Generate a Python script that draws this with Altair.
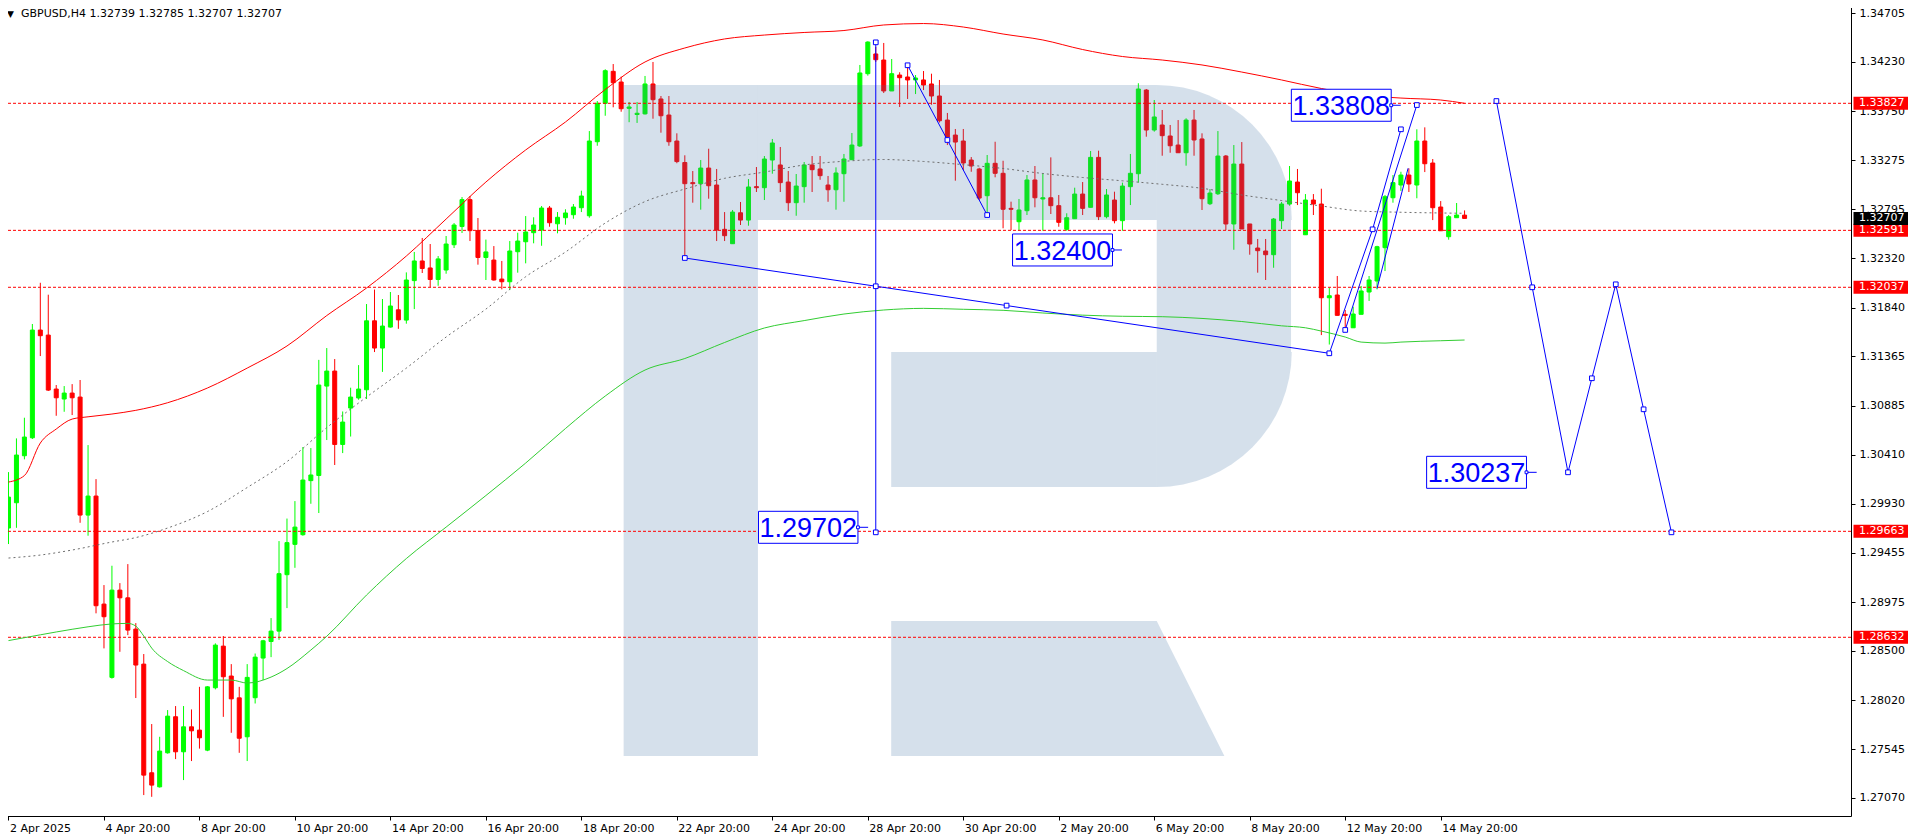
import json
import pandas as pd
import altair as alt

# ---------------- data ----------------
HEADER = "GBPUSD,H4  1.32739 1.32785 1.32707 1.32707"

OPEN = [1.29695, 1.29941, 1.30398, 1.30573, 1.31621, 1.31572, 1.31047, 1.30950, 1.31008, 1.30969,
        1.29821, 1.30006, 1.28955, 1.28242, 1.29091, 1.29016, 1.28712, 1.28371, 1.27314, 1.27177,
        1.27508, 1.27859, 1.27518, 1.27761, 1.27729, 1.27534, 1.28141, 1.28546, 1.28255, 1.28043,
        1.27664, 1.28044, 1.28430, 1.28591, 1.28692, 1.29241, 1.29536, 1.29630, 1.30156, 1.30206,
        1.31076, 1.31222, 1.30508, 1.30862, 1.30960, 1.31040, 1.31711, 1.31446, 1.31650, 1.31818,
        1.31718, 1.32102, 1.32293, 1.32225, 1.32113, 1.32205, 1.32451, 1.32628, 1.32890, 1.32588,
        1.32327, 1.32302, 1.32117, 1.32091, 1.32383, 1.32480, 1.32568, 1.32594, 1.32808, 1.32655,
        1.32714, 1.32743, 1.32811, 1.32733, 1.33453, 1.33827, 1.34138, 1.34034, 1.33778, 1.33718,
        1.33724, 1.34015, 1.33869, 1.33713, 1.33460, 1.33251, 1.33055, 1.33045, 1.33197, 1.33032,
        1.32601, 1.32461, 1.32762, 1.32691, 1.33016, 1.33006, 1.33275, 1.33227, 1.33061, 1.32860,
        1.33016, 1.33227, 1.33188, 1.33032, 1.32986, 1.33142, 1.33278, 1.33412, 1.34115, 1.34307,
        1.34248, 1.33947, 1.34102, 1.34083, 1.34054, 1.34054, 1.34015, 1.33898, 1.33664, 1.33518,
        1.33460, 1.33275, 1.33188, 1.32928, 1.33243, 1.33146, 1.32805, 1.32675, 1.32782, 1.33081,
        1.32896, 1.32908, 1.32831, 1.32601, 1.32704, 1.32944, 1.32815, 1.33301, 1.32724, 1.32886,
        1.32685, 1.33016, 1.33142, 1.33956, 1.33567, 1.33616, 1.33509, 1.33421, 1.33346, 1.33664,
        1.33480, 1.32850, 1.32947, 1.33314, 1.32653, 1.33236, 1.32653, 1.32419, 1.32390, 1.32354,
        1.32685, 1.32847, 1.33061, 1.32548, 1.32886, 1.32847, 1.31935, 1.31962, 1.31774, 1.31643,
        1.31774, 1.31991, 1.32098, 1.32422, 1.32908, 1.33032, 1.33129, 1.33032, 1.33460, 1.33246,
        1.32818, 1.32529, 1.32714, 1.32739]

HIGH = [1.30239, 1.30567, 1.30768, 1.31680, 1.32081, 1.31965, 1.31086, 1.31076, 1.31095, 1.31135,
        1.30502, 1.30171, 1.29140, 1.29328, 1.29159, 1.29344, 1.28770, 1.28469, 1.27788, 1.27664,
        1.27924, 1.27963, 1.27963, 1.27930, 1.28150, 1.28157, 1.28573, 1.28644, 1.28371, 1.28150,
        1.28371, 1.28474, 1.28607, 1.28819, 1.29568, 1.29787, 1.29957, 1.30483, 1.30473, 1.31331,
        1.31446, 1.31339, 1.30829, 1.31060, 1.31280, 1.31874, 1.32015, 1.31923, 1.31991, 1.31962,
        1.32182, 1.32381, 1.32517, 1.32458, 1.32341, 1.32536, 1.32662, 1.32915, 1.32925, 1.32711,
        1.32501, 1.32438, 1.32293, 1.32487, 1.32568, 1.32730, 1.32718, 1.32828, 1.32828, 1.32769,
        1.32796, 1.32847, 1.32977, 1.33557, 1.33849, 1.34158, 1.34209, 1.34086, 1.33840, 1.33840,
        1.34093, 1.34229, 1.33898, 1.33898, 1.33535, 1.33321, 1.33168, 1.33275, 1.33385, 1.33188,
        1.32769, 1.32789, 1.32867, 1.33090, 1.33207, 1.33314, 1.33480, 1.33402, 1.33168, 1.33139,
        1.33256, 1.33314, 1.33314, 1.33120, 1.33204, 1.33334, 1.33538, 1.34200, 1.34430, 1.34375,
        1.34414, 1.34258, 1.34129, 1.34193, 1.34102, 1.34141, 1.34115, 1.34054, 1.33733, 1.33577,
        1.33577, 1.33304, 1.33200, 1.33324, 1.33453, 1.33268, 1.32870, 1.32896, 1.33129, 1.33217,
        1.33146, 1.33301, 1.32935, 1.32757, 1.33006, 1.33061, 1.33363, 1.33366, 1.32993, 1.32967,
        1.33055, 1.33334, 1.34022, 1.33966, 1.33859, 1.33762, 1.33616, 1.33664, 1.33681, 1.33762,
        1.33535, 1.32993, 1.33557, 1.33324, 1.33421, 1.33450, 1.32653, 1.32507, 1.32507, 1.32711,
        1.32867, 1.33217, 1.33188, 1.32944, 1.32944, 1.32996, 1.32033, 1.32147, 1.31816, 1.31848,
        1.32050, 1.32147, 1.32441, 1.32935, 1.33129, 1.33161, 1.33194, 1.33574, 1.33593, 1.33285,
        1.32876, 1.32740, 1.32857, 1.32785]

LOW = [1.29539, 1.29697, 1.30363, 1.30561, 1.31368, 1.31028, 1.30787, 1.30826, 1.30794, 1.29746,
       1.29620, 1.28865, 1.28524, 1.28230, 1.28491, 1.28653, 1.28041, 1.27097, 1.27080, 1.27170,
       1.27500, 1.27447, 1.27243, 1.27428, 1.27549, 1.27524, 1.28125, 1.27858, 1.27703, 1.27508,
       1.27428, 1.27988, 1.28216, 1.28439, 1.28607, 1.28916, 1.29308, 1.29620, 1.29931, 1.29841,
       1.30551, 1.30308, 1.30424, 1.30585, 1.30943, 1.30950, 1.31407, 1.31214, 1.31645, 1.31633,
       1.31683, 1.31825, 1.32176, 1.32036, 1.32052, 1.32169, 1.32419, 1.32565, 1.32487, 1.32257,
       1.32108, 1.32102, 1.32017, 1.32010, 1.32179, 1.32270, 1.32465, 1.32441, 1.32626, 1.32562,
       1.32646, 1.32704, 1.32769, 1.32714, 1.33414, 1.33706, 1.33788, 1.33745, 1.33643, 1.33636,
       1.33718, 1.33677, 1.33541, 1.33414, 1.33244, 1.32319, 1.32860, 1.32792, 1.32899, 1.32487,
       1.32487, 1.32461, 1.32643, 1.32636, 1.32964, 1.32886, 1.33142, 1.32964, 1.32779, 1.32733,
       1.32860, 1.32964, 1.33083, 1.32869, 1.32792, 1.32869, 1.33275, 1.33402, 1.34096, 1.34229,
       1.33927, 1.33947, 1.33791, 1.33869, 1.33917, 1.33956, 1.33813, 1.33640, 1.33421, 1.33074,
       1.33178, 1.33161, 1.32886, 1.32740, 1.33107, 1.32611, 1.32594, 1.32587, 1.32740, 1.32815,
       1.32587, 1.32750, 1.32626, 1.32587, 1.32704, 1.32740, 1.32815, 1.32691, 1.32708, 1.32659,
       1.32587, 1.32837, 1.33055, 1.33502, 1.33551, 1.33317, 1.33346, 1.33346, 1.33220, 1.33317,
       1.32789, 1.32837, 1.32935, 1.32594, 1.32402, 1.32604, 1.32354, 1.32179, 1.32108, 1.32227,
       1.32604, 1.32831, 1.32837, 1.32548, 1.32740, 1.31572, 1.31480, 1.31764, 1.31641, 1.31643,
       1.31774, 1.31904, 1.32017, 1.32195, 1.32860, 1.32974, 1.32964, 1.32903, 1.33158, 1.32691,
       1.32587, 1.32500, 1.32714, 1.32707]

CLOSE = [1.29996, 1.30405, 1.30580, 1.31621, 1.31566, 1.31037, 1.30962, 1.31008, 1.30962, 1.29821,
         1.30006, 1.28939, 1.28832, 1.29091, 1.29016, 1.28702, 1.28362, 1.27291, 1.27194, 1.27525,
         1.27865, 1.27518, 1.27761, 1.27722, 1.27654, 1.28150, 1.28556, 1.28248, 1.28033, 1.27650,
         1.28242, 1.28439, 1.28598, 1.28692, 1.29251, 1.29553, 1.29704, 1.30162, 1.30211, 1.31086,
         1.31222, 1.30508, 1.30726, 1.30969, 1.31047, 1.31711, 1.31446, 1.31660, 1.31855, 1.31720,
         1.32108, 1.32293, 1.32220, 1.32113, 1.32313, 1.32458, 1.32643, 1.32890, 1.32588, 1.32327,
         1.32381, 1.32108, 1.32091, 1.32390, 1.32487, 1.32575, 1.32643, 1.32808, 1.32665, 1.32718,
         1.32760, 1.32818, 1.32925, 1.33460, 1.33827, 1.34144, 1.34027, 1.33774, 1.33791, 1.33730,
         1.34015, 1.33862, 1.33706, 1.33453, 1.33260, 1.33045, 1.33045, 1.33197, 1.33025, 1.32594,
         1.32539, 1.32769, 1.32691, 1.33013, 1.33006, 1.33285, 1.33441, 1.33055, 1.32860, 1.33022,
         1.33227, 1.33181, 1.33123, 1.32986, 1.33149, 1.33285, 1.33421, 1.34122, 1.34423, 1.34251,
         1.33947, 1.34115, 1.34076, 1.34054, 1.34073, 1.34005, 1.33898, 1.33657, 1.33499, 1.33450,
         1.33246, 1.33217, 1.32905, 1.33243, 1.33146, 1.32796, 1.32796, 1.32789, 1.33081, 1.32908,
         1.32908, 1.32831, 1.32669, 1.32714, 1.32944, 1.32805, 1.33301, 1.32724, 1.32935, 1.32685,
         1.33022, 1.33146, 1.33966, 1.33567, 1.33694, 1.33512, 1.33414, 1.33346, 1.33664, 1.33470,
         1.32899, 1.32954, 1.33314, 1.32653, 1.33236, 1.32604, 1.32458, 1.32393, 1.32354, 1.32701,
         1.32847, 1.33071, 1.32957, 1.32886, 1.32847, 1.31935, 1.31955, 1.31764, 1.31764, 1.31777,
         1.32001, 1.32108, 1.32432, 1.32918, 1.33055, 1.33129, 1.33042, 1.33460, 1.33239, 1.32811,
         1.32587, 1.32724, 1.32740, 1.32707]

# Bollinger-type band read at selected bars
UPPER_BARS = [0, 2, 4, 6, 8, 10, 13, 16, 20, 25, 30, 35, 40, 45, 50, 55, 60, 65, 70, 75, 80,
              85, 90, 95, 100, 105, 110, 115, 120, 125, 130, 135, 140, 145, 150, 155, 160, 165,
              170, 175, 180, 183]
UPPER = [1.30142, 1.30205, 1.30522, 1.30658, 1.30755, 1.30777, 1.30804, 1.30840, 1.30914, 1.31057,
         1.31251, 1.31466, 1.31762, 1.32030, 1.32341, 1.32701, 1.33061, 1.33373, 1.33645, 1.33961,
         1.34229, 1.34365, 1.34453, 1.34491, 1.34516, 1.34535, 1.34589, 1.34603, 1.34569, 1.34501,
         1.34443, 1.34350, 1.34282, 1.34248, 1.34200, 1.34131, 1.34054, 1.33971, 1.33908, 1.33878,
         1.33859, 1.33827]
MIDDLE_BARS = [0, 4, 8, 13, 16, 20, 25, 30, 35, 40, 45, 50, 55, 60, 65, 70, 75, 80, 85, 90, 95,
               100, 105, 110, 115, 120, 125, 130, 135, 140, 145, 150, 155, 160, 165, 170, 175, 180, 183]
MIDDLE = [1.29403, 1.29432, 1.29481, 1.29559, 1.29602, 1.29695, 1.29855, 1.30089, 1.30341, 1.30672,
          1.30969, 1.31251, 1.31553, 1.31825, 1.32140, 1.32380, 1.32662, 1.32871, 1.32993, 1.33097,
          1.33158, 1.33227, 1.33263, 1.33280, 1.33261, 1.33230, 1.33193, 1.33144, 1.33105, 1.33073,
          1.33039, 1.33000, 1.32935, 1.32881, 1.32828, 1.32779, 1.32767, 1.32760, 1.32757]
LOWER_BARS = [0, 4, 8, 10, 13, 15, 16, 17, 18, 20, 22, 25, 28, 30, 33, 35, 38, 40, 45, 50, 55, 60,
              65, 70, 75, 80, 85, 90, 95, 100, 105, 110, 115, 120, 125, 130, 135, 140, 145, 150,
              155, 160, 163, 165, 168, 170, 173, 175, 180, 183]
LOWER = [1.28600, 1.28656, 1.28710, 1.28734, 1.28762, 1.28767, 1.28741, 1.28644, 1.28527, 1.28396,
         1.28308, 1.28216, 1.28216, 1.28187, 1.28245, 1.28328, 1.28508, 1.28642, 1.29043, 1.29398,
         1.29704, 1.30011, 1.30327, 1.30663, 1.30979, 1.31232, 1.31344, 1.31500, 1.31641, 1.31713,
         1.31777, 1.31816, 1.31832, 1.31823, 1.31813, 1.31787, 1.31766, 1.31755, 1.31751, 1.31734,
         1.31704, 1.31662, 1.31643, 1.31611, 1.31553, 1.31504, 1.31494, 1.31504, 1.31517, 1.31524]

LEVELS = [1.33827, 1.32591, 1.32037, 1.29663, 1.28632]
LAST_PRICE = 1.32707

Y_TICKS = [1.34705, 1.34230, 1.33750, 1.33275, 1.32795, 1.32320, 1.31840, 1.31365, 1.30885,
           1.30410, 1.29930, 1.29455, 1.28975, 1.28500, 1.28020, 1.27545, 1.27070]
X_TICK_BARS = [0, 12, 24, 36, 48, 60, 72, 84, 96, 108, 120, 132, 144, 156, 168, 180]
X_TICK_LABELS = ["2 Apr 2025", "4 Apr 20:00", "8 Apr 20:00", "10 Apr 20:00", "14 Apr 20:00",
                 "16 Apr 20:00", "18 Apr 20:00", "22 Apr 20:00", "24 Apr 20:00", "28 Apr 20:00",
                 "30 Apr 20:00", "2 May 20:00", "6 May 20:00", "8 May 20:00", "12 May 20:00",
                 "14 May 20:00"]

# analysis drawings: (bar, price)
TREND = [(85, 1.32322), (166, 1.31395)]
VERTICAL = [(109, 1.34420), (109, 1.29653)]
DROP = [(113, 1.34197), (118, 1.33470), (123, 1.32740)]
WAVE_A = [(166, 1.31395), (171.44, 1.32601), (175, 1.33574)]
WAVE_B = [(168, 1.31622), (177, 1.33810)]
WAVE_C = [(172, 1.32027), (175.9, 1.33195)]
FORECAST = [(187, 1.33849), (191.5, 1.32037), (196, 1.30237), (199, 1.31152), (202, 1.32066),
            (205.5, 1.30850), (209, 1.29653)]
EXTRA_MARKERS = [(109, 1.32047), (125.44, 1.31859)]
# label text, price, box left bar, box right bar, tick end bar
LABELS = [("1.29702", 1.29702, 94.26, 106.76, 108.04),
          ("1.32400", 1.32400, 126.19, 138.75, 139.94),
          ("1.33808", 1.33808, 161.23, 173.78, 174.98),
          ("1.30237", 1.30237, 178.23, 190.78, 192.06)]

# watermark "R" logo outline, in bar / price units
WM_RECTS = [(77.3125, 94.1875, 1.340050, 1.274771),
            (94.1875, 144.3125, 1.340050, 1.326917),
            (144.3125, 161.1875, 1.326917, 1.314075),
            (110.9375, 144.3125, 1.314075, 1.300941)]
WM_ARCS = [(144.3125, 1.326917, 0.0, 1.5708), (144.3125, 1.314075, 1.5708, 3.1416)]
WM_LEG = [(110.9375, 1.287905, 1.274771), (144.3125, 1.287905, 1.274771), (152.8125, 1.274771, 1.274771)]

# ---------------- chart ----------------
W, H = 1843, 808
FONT = "DejaVu Sans"
xs = alt.Scale(domain=[-0.1875, 230.9375], range=[-6, W], nice=False, zero=False)
ys = alt.Scale(domain=[1.268934, 1.348125], range=[H, -6], nice=False, zero=False)

X_AXIS = alt.Axis(values=X_TICK_BARS, labelExpr=json.dumps(X_TICK_LABELS) + "[round(datum.value / 12)]",
                  orient="bottom", grid=False, tickSize=4, labelPadding=2, labelAlign="left",
                  labelBaseline="top", labelFont=FONT, labelFontSize=11, labelColor="black",
                  domainColor="black", tickColor="black", labelOverlap=False, labelFlush=False,
                  labelOffset=1, title=None)
Y_AXIS = alt.Axis(values=Y_TICKS, format=".5f", orient="right", grid=False, tickSize=4,
                  labelPadding=4, labelFont=FONT, labelFontSize=11, labelColor="black",
                  labelAlign="left", labelBaseline="middle", domainColor="black", tickColor="black",
                  labelOverlap=False, labelFlush=False, title=None)


def X(f):
    return alt.X(f, type="quantitative", scale=xs, axis=X_AXIS, title=None)


def Y(f):
    return alt.Y(f, type="quantitative", scale=ys, axis=Y_AXIS, title=None)


n = len(OPEN)
candles = pd.DataFrame({"i": list(range(n)), "o": OPEN, "h": HIGH, "l": LOW, "c": CLOSE})
candles["dir"] = ["up" if c >= o else "down" for o, c in zip(OPEN, CLOSE)]
dir_scale = alt.Scale(domain=["up", "down"], range=["#00ff00", "#ff0000"])

wicks = alt.Chart(candles).mark_rule(strokeWidth=1).encode(
    x=X("i"), y=Y("l"), y2="h",
    color=alt.Color("dir:N", scale=dir_scale, legend=None))
bodies = alt.Chart(candles).mark_bar(size=4, strokeWidth=1).encode(
    x=X("i"), y=Y("o"), y2="c",
    color=alt.Color("dir:N", scale=dir_scale, legend=None),
    stroke=alt.Stroke("dir:N", scale=dir_scale, legend=None))

# watermark
WM_COLOR = "#3e70a5"
WM_OP = 0.22
wm_rect_df = pd.DataFrame(WM_RECTS, columns=["x1", "x2", "y1", "y2"])
wm_rects = alt.Chart(wm_rect_df).mark_rect(color=WM_COLOR, opacity=WM_OP).encode(
    x=X("x1"), x2="x2", y=Y("y1"), y2="y2")
wm_arcs = []
for cx, cy, t1, t2 in WM_ARCS:
    wm_arcs.append(alt.Chart(pd.DataFrame({"x": [cx], "y": [cy]})).mark_arc(
        color=WM_COLOR, opacity=WM_OP, radius=135, theta=t1, theta2=t2).encode(x=X("x"), y=Y("y")))
wm_leg = alt.Chart(pd.DataFrame(WM_LEG, columns=["x", "y1", "y2"])).mark_area(
    color=WM_COLOR, opacity=WM_OP).encode(x=X("x"), y=Y("y1"), y2="y2")

levels = alt.Chart(pd.DataFrame({"p": LEVELS})).mark_rule(
    color="#ff0000", strokeWidth=1, strokeDash=[3, 2]).encode(y=Y("p"))

upper = alt.Chart(pd.DataFrame({"i": UPPER_BARS, "p": UPPER})).mark_line(
    color="#ff0000", strokeWidth=1, interpolate="monotone").encode(x=X("i"), y=Y("p"))
middle = alt.Chart(pd.DataFrame({"i": MIDDLE_BARS, "p": MIDDLE})).mark_line(
    color="#6e6e6e", strokeWidth=1, strokeDash=[2, 3], interpolate="monotone").encode(x=X("i"), y=Y("p"))
lower = alt.Chart(pd.DataFrame({"i": LOWER_BARS, "p": LOWER})).mark_line(
    color="#32cd32", strokeWidth=1, interpolate="monotone").encode(x=X("i"), y=Y("p"))

rows = []
for name, pts in [("trend", TREND), ("vertical", VERTICAL), ("drop", DROP), ("wa", WAVE_A),
                  ("wb", WAVE_B), ("wc", WAVE_C), ("fc", FORECAST)]:
    for k, (bi, pr) in enumerate(pts):
        rows.append({"seg": name, "k": k, "i": bi, "p": pr})
blue_df = pd.DataFrame(rows)
blue_lines = alt.Chart(blue_df).mark_line(color="#0000ff", strokeWidth=1).encode(
    x=X("i"), y=Y("p"), detail="seg:N", order="k:Q")

marker_pts = TREND + VERTICAL + DROP + WAVE_A[1:] + WAVE_B + FORECAST + EXTRA_MARKERS
markers = alt.Chart(pd.DataFrame(marker_pts, columns=["i", "p"])).mark_square(
    size=22, filled=True, fill="white", stroke="#0000ff", strokeWidth=1, opacity=1).encode(
    x=X("i"), y=Y("p"))

lab_df = pd.DataFrame(LABELS, columns=["t", "p", "bl", "br", "te"])
half = 16 / 10278.9
lab_df["top"] = lab_df["p"] + half
lab_df["bot"] = lab_df["p"] - half
lab_df["mid"] = (lab_df["bl"] + lab_df["br"]) / 2
lab_boxes = alt.Chart(lab_df).mark_rect(fill="white", stroke="#0000ff", strokeWidth=1).encode(
    x=X("bl"), x2="br", y=Y("bot"), y2="top")
lab_ticks = alt.Chart(lab_df).mark_rule(color="#0000ff", strokeWidth=1).encode(
    x=X("br"), x2="te", y=Y("p"))
lab_sq = alt.Chart(lab_df).mark_square(size=8, filled=True, fill="white", stroke="#0000ff",
                                       strokeWidth=1, opacity=1).encode(x=X("br"), y=Y("p"))
lab_text = alt.Chart(lab_df).mark_text(font="Liberation Sans", fontSize=27, color="#0000ff",
                                       align="center", baseline="middle", dy=2).encode(
    x=X("mid"), y=Y("p"), text="t:N")

# right-hand price tags (red for horizontal levels, black for the last price)
lvl_df = pd.DataFrame({"p": LEVELS, "t": [f"{v:.5f}" for v in LEVELS]})
last_df = pd.DataFrame({"p": [LAST_PRICE], "t": [f"{LAST_PRICE:.5f}"]})
tag_layers = []
for df, colr in [(lvl_df, "#ff0000"), (last_df, "#000000")]:
    tag_layers.append(alt.Chart(df).mark_rule(strokeWidth=13, strokeCap="butt", color=colr).encode(
        x=alt.value(W + 2.5), x2=alt.value(W + 60), y=Y("p")))
    tag_layers.append(alt.Chart(df).mark_text(font=FONT, fontSize=11, color="white", align="left",
                                              baseline="middle").encode(
        x=alt.value(W + 8), y=Y("p"), text="t:N"))

head_df = pd.DataFrame({"t": [HEADER], "tri": ["\u25bc"]})
header = alt.Chart(head_df).mark_text(font=FONT, fontSize=11, color="black", align="left",
                                      baseline="middle").encode(
    x=alt.value(13), y=alt.value(5.5), text="t:N")
tri = alt.Chart(head_df).mark_text(font=FONT, fontSize=9, color="black", align="center",
                                   baseline="middle").encode(
    x=alt.value(2.5), y=alt.value(5.5), text="tri:N")

chart = alt.layer(
    wicks, bodies, wm_rects, *wm_arcs, wm_leg, levels, upper, middle, lower,
    blue_lines, markers, lab_boxes, lab_ticks, lab_sq, lab_text, *tag_layers, header, tri
).properties(
    width=W, height=H,
    padding={"left": 0, "top": 0, "right": 57, "bottom": 24},
    autosize=alt.AutoSizeParams(type="none"),
    background="white",
).configure_view(strokeWidth=0)

chart.save("out.html", embed_options={"renderer": "svg", "actions": False})
